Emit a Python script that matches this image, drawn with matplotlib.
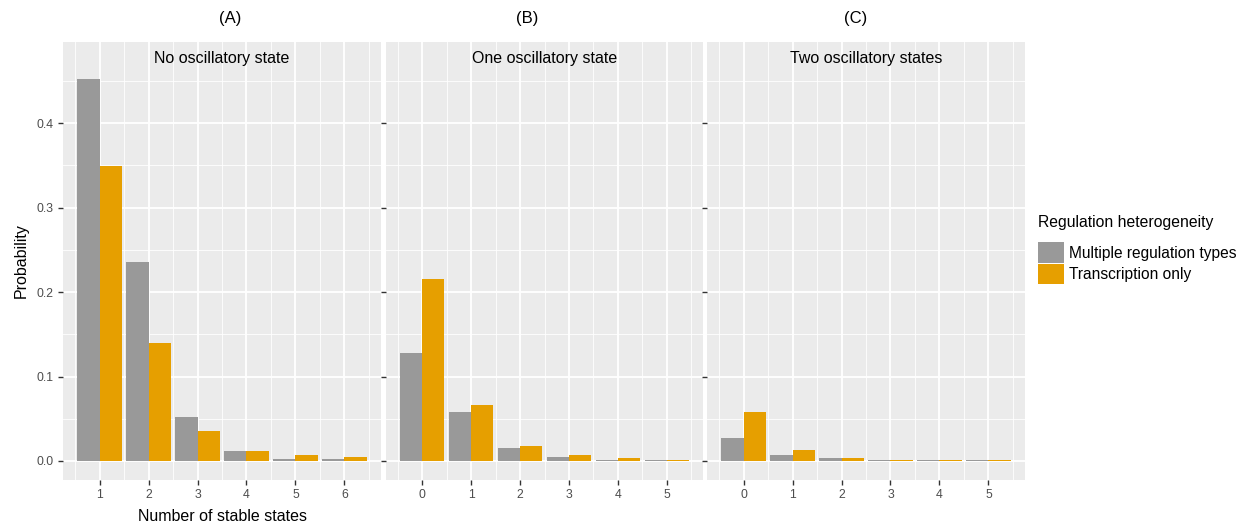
import numpy as np
import matplotlib
matplotlib.use("Agg")
import matplotlib.pyplot as plt
from matplotlib.patches import Patch

plt.rcParams['font.family'] = ['Liberation Sans', 'DejaVu Sans']

panel_titles = ['(A)', '(B)', '(C)']
panel_labels = ['No oscillatory state', 'One oscillatory state', 'Two oscillatory states']
states = [[1, 2, 3, 4, 5, 6], [0, 1, 2, 3, 4, 5], [0, 1, 2, 3, 4, 5]]
multiple_types = [
    [0.452, 0.235, 0.052, 0.012, 0.002, 0.002],
    [0.128, 0.058, 0.015, 0.005, 0.001, 0.001],
    [0.027, 0.007, 0.003, 0.001, 0.001, 0.001],
]
transcription_only = [
    [0.349, 0.140, 0.035, 0.012, 0.007, 0.005],
    [0.215, 0.066, 0.018, 0.007, 0.004, 0.001],
    [0.058, 0.013, 0.004, 0.001, 0.001, 0.001],
]
series_names = ['Multiple regulation types', 'Transcription only']
colors = ['#999999', '#E69F00']

W, H = 1247, 525
fig = plt.figure(figsize=(W / 100, H / 100), dpi=100)

panel_x = [(63, 381), (386, 703), (707, 1025)]
top, bottom = 42, 480
title_x = [230, 527, 856]

for i in range(3):
    x0, x1 = panel_x[i]
    ax = fig.add_axes([x0 / W, 1 - bottom / H, (x1 - x0) / W, (bottom - top) / H])
    ax.set_facecolor('#EBEBEB')
    x = np.array(states[i])
    ax.bar(x - 0.225, multiple_types[i], width=0.45, color=colors[0], zorder=3)
    ax.bar(x + 0.225, transcription_only[i], width=0.45, color=colors[1], zorder=3)

    ax.set_xlim(x.min() - 0.745, x.max() + 0.745)
    ax.set_ylim(-0.0225, 0.496)
    ax.set_xticks(x)
    ax.set_xticks(np.arange(x.min() - 0.5, x.max() + 1, 1), minor=True)
    ax.set_yticks([0, 0.1, 0.2, 0.3, 0.4])
    ax.set_yticks([0.05, 0.15, 0.25, 0.35, 0.45], minor=True)
    ax.grid(which='major', color='white', linewidth=1.3, zorder=0)
    ax.grid(which='minor', color='white', linewidth=0.6, zorder=0)
    ax.set_axisbelow(True)
    for s in ax.spines.values():
        s.set_visible(False)
    ax.tick_params(which='major', length=3.5, width=1, color='#333333',
                   labelcolor='#4D4D4D', labelsize=8.8, pad=3)
    ax.tick_params(which='minor', length=0)
    if i == 0:
        ax.set_yticklabels(['0.0', '0.1', '0.2', '0.3', '0.4'])
        ax.set_ylabel('Probability', fontsize=11.5, labelpad=6)
        ax.set_xlabel('Number of stable states', fontsize=11.5, labelpad=6)
    else:
        ax.set_yticklabels([])

    ax.text(0.5, 0.962, panel_labels[i], transform=ax.transAxes,
            ha='center', va='center', fontsize=11.5, color='black')
    fig.text(title_x[i] / W, 1 - 18 / H, panel_titles[i],
             ha='center', va='center', fontsize=12)

handles = [Patch(facecolor=c, edgecolor='none') for c in colors]
leg = fig.legend(handles, series_names, title='Regulation heterogeneity',
                 loc='upper left', bbox_to_anchor=(1038 / W, 1 - 215 / H),
                 frameon=False, fontsize=11.2, title_fontsize=11.3,
                 handlelength=1.65, handleheight=1.65, handletextpad=0.32,
                 labelspacing=0.05, borderaxespad=0, borderpad=0)
leg._legend_box.align = 'left'
leg._legend_box.sep = 9

fig.savefig('out.png', dpi=100)
